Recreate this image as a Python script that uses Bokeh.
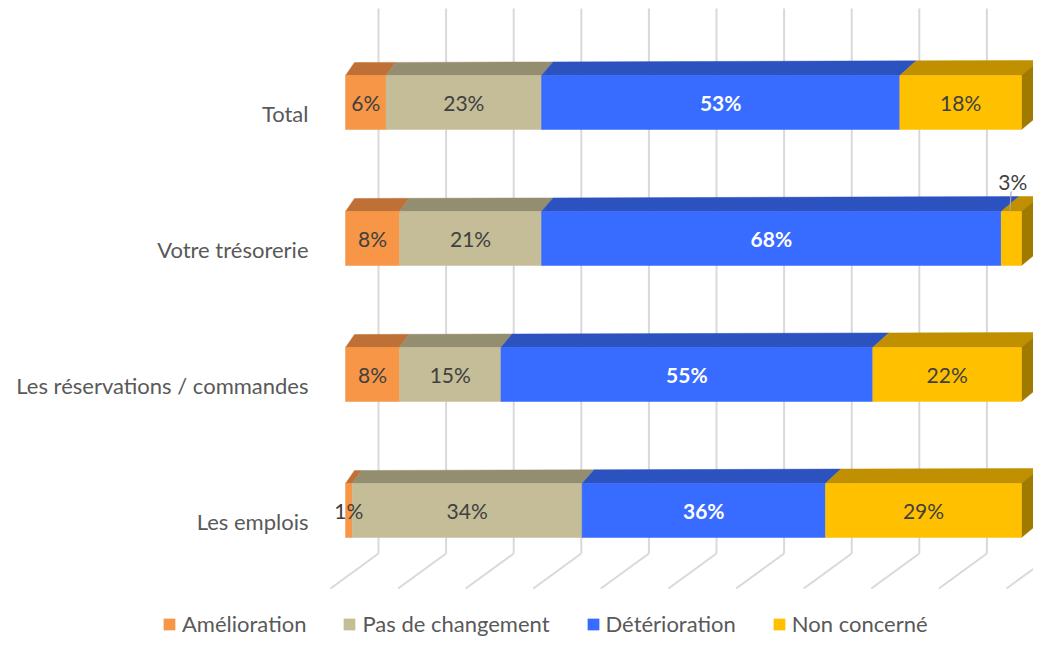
from bokeh.plotting import figure
from bokeh.models import Range1d, Legend, LegendItem
from bokeh.core.properties import value
from bokeh.embed import file_html
from bokeh.resources import INLINE

# ---------------- data ----------------
categories = ["Total", "Votre trésorerie", "Les réservations / commandes", "Les emplois"]
series_names = ["Amélioration", "Pas de changement", "Détérioration", "Non concerné"]
amelioration = [6, 8, 8, 1]
pas_de_changement = [23, 21, 15, 34]
deterioration = [53, 68, 55, 36]
non_concerne = [18, 3, 22, 29]
grid_ticks = [0, 10, 20, 30, 40, 50, 60, 70, 80, 90, 100]

series_values = [amelioration, pas_de_changement, deterioration, non_concerne]
front_colors = ["#F79646", "#C4BD97", "#386BFF", "#FFC000"]
top_colors = ["#BF7036", "#948E71", "#2C52C0", "#C09000"]
side_colors = ["#A0602C", "#7A7558", "#24449F", "#A07A00"]
label_colors = ["#404040", "#404040", "#FFFFFF", "#404040"]
label_styles = ["normal", "normal", "bold", "normal"]

FONT = "Lato"
W, H = 1033, 638

# screen geometry helpers (pixels -> data units)
PX_PER_PCT = 6.76           # pixels per percent along the value axis
X0 = 345.0                  # screen x of 0% on the bars' front plane
ROW_PX = 136.0              # screen distance between category rows
Y0 = 102.0                  # screen y of first row centre
def sx(px):                 # screen x -> data x
    return (px - X0) / PX_PER_PCT
def sy(py):                 # screen y -> data y
    return (Y0 - py) / ROW_PX

p = figure(width=W, height=H, output_backend="svg", toolbar_location=None,
           x_range=Range1d(sx(0), sx(W)), y_range=Range1d(sy(H), sy(0)),
           min_border=0, outline_line_color=None)
p.axis.visible = False
p.grid.visible = False
p.background_fill_color = "white"
p.border_fill_color = "white"

half_h = 27.0 / ROW_PX
def depth_dx(v):            # perspective depth offset (in % units) for a point at value v
    return (9.0 + 0.09 * v) / PX_PER_PCT
def depth_dy(v):
    return (13.0 + 2.0 * v / 100.0) / ROW_PX

# ---------------- back wall gridlines and floor ----------------
wall_shift = 33.0 / PX_PER_PCT
floor_back = sy(553)
floor_front = sy(588)
floor_dx = -48.0 / PX_PER_PCT
gx = [t + wall_shift for t in grid_ticks]
p.segment(x0=gx, y0=[sy(8)] * len(gx), x1=gx, y1=[floor_back] * len(gx),
          line_color="#D9D9D9", line_width=2)
p.segment(x0=gx, y0=[floor_back] * len(gx), x1=[g + floor_dx for g in gx],
          y1=[floor_front] * len(gx), line_color="#D9D9D9", line_width=2)

# ---------------- 3D stacked bars ----------------
row_y = [-i for i in range(len(categories))]
lefts_all = []
for s in range(len(series_values)):
    lefts, rights = [], []
    for i in range(len(categories)):
        start = sum(series_values[k][i] for k in range(s))
        lefts.append(start)
        rights.append(start + series_values[s][i])
    lefts_all.append((lefts, rights))

# top faces
for s in range(len(series_values)):
    lefts, rights = lefts_all[s]
    xs, ys = [], []
    for i in range(len(categories)):
        if rights[i] <= lefts[i]:
            continue
        top = row_y[i] + half_h
        l, r = lefts[i], rights[i]
        xs.append([l, r, r + depth_dx(r), l + depth_dx(l)])
        ys.append([top, top, top + depth_dy(r), top + depth_dy(l)])
    p.patches(xs=xs, ys=ys, fill_color=top_colors[s], line_color=top_colors[s], line_width=0.5)

# right side face (end of each bar)
last = len(series_values) - 1
xs, ys = [], []
for i in range(len(categories)):
    r = lefts_all[last][1][i]
    top, bot = row_y[i] + half_h, row_y[i] - half_h
    xs.append([r, r + depth_dx(r), r + depth_dx(r), r])
    ys.append([top, top + depth_dy(r), bot + depth_dy(r), bot])
p.patches(xs=xs, ys=ys, fill_color=side_colors[last], line_color=side_colors[last], line_width=0.5)

# front faces
renderers = []
for s in range(len(series_values)):
    lefts, rights = lefts_all[s]
    r_ = p.quad(left=lefts, right=rights,
                top=[y + half_h for y in row_y], bottom=[y - half_h for y in row_y],
                fill_color=front_colors[s], line_color=front_colors[s], line_width=0.5)
    renderers.append(r_)

# ---------------- data labels ----------------
for s in range(len(series_values)):
    lefts, rights = lefts_all[s]
    lx, ly, lt, ox, oy, ot = [], [], [], [], [], []
    for i in range(len(categories)):
        v = series_values[s][i]
        c = (lefts[i] + rights[i]) / 2.0
        if s == last and v < 5:
            ox.append(c + 0.2)
            oy.append(row_y[i] + 57.0 / ROW_PX)
            ot.append(f"{v}%")
            p.segment(x0=[c - 0.05], y0=[row_y[i] + 47.0 / ROW_PX],
                      x1=[c - 0.2], y1=[row_y[i] + 27.0 / ROW_PX],
                      line_color="#A6A6A6", line_width=1.2)
        else:
            lx.append(c)
            ly.append(row_y[i])
            lt.append(f"{v}%")
    p.text(x=lx, y=ly, text=lt, text_align="center", text_baseline="middle",
           text_font=value(FONT), text_font_size="21px", text_color=label_colors[s],
           text_font_style=label_styles[s])
    if ot:
        p.text(x=ox, y=oy, text=ot, text_align="center", text_baseline="middle",
               text_font=value(FONT), text_font_size="21px", text_color="#404040")

# ---------------- category labels ----------------
p.text(x=[sx(308)] * len(categories), y=[y - 11.0 / ROW_PX for y in row_y], text=categories,
       text_align="right", text_baseline="middle",
       text_font=value(FONT), text_font_size="22px", text_color="#595959")

# ---------------- legend ----------------
legend = Legend(items=[LegendItem(label=n, renderers=[r]) for n, r in zip(series_names, renderers)],
                orientation="horizontal", location=(162, 1),
                glyph_width=14, glyph_height=14, label_standoff=6, spacing=36,
                padding=0, margin=0, border_line_alpha=0, background_fill_alpha=0,
                label_text_font=FONT, label_text_font_size="22px", label_text_color="#595959",
                label_height=22)
p.add_layout(legend)

open("out.html", "w").write(file_html(p, INLINE))
